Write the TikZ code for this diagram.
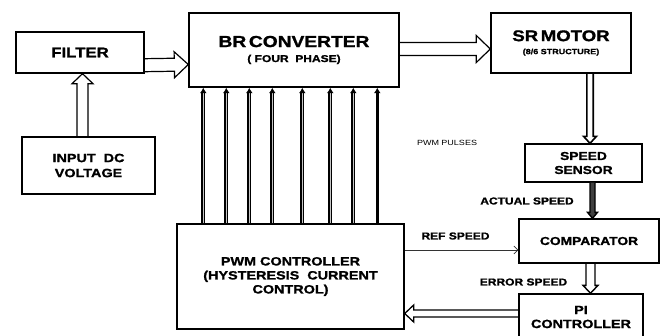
\documentclass[tikz,border=0pt]{standalone}
\usepackage{fontspec}
\setmainfont{Liberation Sans}[FakeStretch=1.2, BoldFeatures={FakeBold=1.2}]
\usetikzlibrary{calc,arrows.meta}
\tikzset{
  box/.style={draw, line width=1.4pt, inner sep=0pt, align=center},
  lbl/.style={inner sep=0pt, font=\fontsize{10}{12}\selectfont\bfseries},
  blk/.style={draw, line width=1.2pt, line join=miter},
  pulse/.style={draw=black, double=gray!45, double distance=1.1pt, line width=1.3pt,
     -{Latex[length=5.5pt,width=7pt]}},
  pulsesolid/.style={draw=black, line width=3pt, -{Latex[length=5.5pt,width=7pt]}},
  thin/.style={draw=black!80, line width=0.6pt, -{Straight Barb[length=4pt,width=8pt]}}
}
% #1 options, #2 start, #3 end, #4 body half width, #5 head half width, #6 head length
\newcommand\blkarrow[6][]{%
  \coordinate (ba-s) at (#2);
  \coordinate (ba-e) at (#3);
  \coordinate (ba-h) at ($(ba-e)!#6!(ba-s)$);
  \draw[blk,#1] ($(ba-s)!#4!90:(ba-e)$) -- ($(ba-h)!#4!90:(ba-e)$) -- ($(ba-h)!#5!90:(ba-e)$)
     -- (ba-e) -- ($(ba-h)!#5!-90:(ba-e)$) -- ($(ba-h)!#4!-90:(ba-e)$) -- ($(ba-s)!#4!-90:(ba-e)$);
}
\begin{document}
\begin{tikzpicture}[x=1pt,y=-1pt]
\useasboundingbox (0,0) rectangle (660,335);
\clip (0,0) rectangle (660,335);

% boxes
\node[box, minimum width=128pt, minimum height=41pt, font=\fontsize{14}{16}\selectfont\bfseries] (filter) at (80,52.5) {FILTER};
\node[box, minimum width=133pt, minimum height=57pt, font=\fontsize{12}{15}\selectfont\bfseries] (input) at (88.5,165.5) {INPUT\ \ DC\\VOLTAGE};
\node[box, minimum width=210pt, minimum height=74pt, font=\fontsize{16}{15}\selectfont\bfseries] (br) at (294,50) {BR\,CONVERTER\\{\fontsize{10}{12}\selectfont ( FOUR\ \ PHASE)}};
\node[box, minimum width=140pt, minimum height=60pt, font=\fontsize{15.5}{13}\selectfont\bfseries] (sr) at (561,43) {SR\,MOTOR\\{\fontsize{7.5}{9}\selectfont (8/6 STRUCTURE)}};
\node[box, minimum width=117pt, minimum height=38pt, font=\fontsize{11.5}{14}\selectfont\bfseries] (sensor) at (583.5,163) {SPEED\\SENSOR};
\node[box, minimum width=140pt, minimum height=44pt, font=\fontsize{11.5}{14}\selectfont\bfseries] (comp) at (589,241) {COMPARATOR};
\node[box, minimum width=124pt, minimum height=46pt, font=\fontsize{12}{14}\selectfont\bfseries] (pi) at (581,317) {PI\\CONTROLLER};
\node[box, minimum width=227pt, minimum height=105pt, font=\fontsize{12}{14}\selectfont\bfseries] (pwm) at (290.5,276.5) {PWM CONTROLLER\\(HYSTERESIS\ \ CURRENT\\CONTROL)};

% labels
\node[inner sep=0pt, font=\fontsize{7.5}{9}\selectfont] (pulses) at (447,143) {PWM PULSES};
\node[lbl] (actual) at (527,201) {ACTUAL SPEED};
\node[lbl] (ref) at (455.5,236) {REF SPEED};
\node[lbl] (error) at (523.5,282) {ERROR SPEED};

% block arrows
\blkarrow{$(input.north)+(-6,0)$}{$(filter.south)+(2.5,0)$}{5.5pt}{10.5pt}{10pt}
\blkarrow{$(filter.south east)+(0,-8.5)$}{$(br.west)+(0,14.5)$}{6.5pt}{13pt}{14pt}
\blkarrow{$(br.east)+(0,-1)$}{$(sr.west)+(0,6)$}{6.5pt}{13.5pt}{14pt}
\blkarrow[line width=1.6pt]{$(sr.south)+(29,0)$}{$(sensor.north)+(6.5,0)$}{3.2pt}{6.5pt}{7pt}
\blkarrow[fill=black!75, line width=1.4pt]{$(sensor.south)+(9,0)$}{$(comp.north)+(3.5,0)$}{2.5pt}{5pt}{6pt}
\blkarrow[line width=1.4pt]{$(comp.south)+(1.5,0)$}{$(pi.north)+(9.5,0)$}{4.5pt}{7.5pt}{8pt}
\blkarrow[line width=1.3pt]{$(pi.west)+(0,-3.5)$}{$(pwm.east)+(0,37)$}{3.5pt}{8.5pt}{9pt}

% thin ref speed arrow
\draw[thin] ($(pwm.east)+(0,-26.5)$) -- ($(comp.west)+(0,9)$);

% PWM pulses to converter
\foreach \dx in {27,50,73,96,126,154,177}{
  \draw[pulse] ($(pwm.north west)+(\dx,0)$) coordinate (pp) -- (pp |- br.south);
}
\draw[pulsesolid] ($(pwm.north west)+(201,0)$) coordinate (pq) -- (pq |- br.south);
\end{tikzpicture}
\end{document}
